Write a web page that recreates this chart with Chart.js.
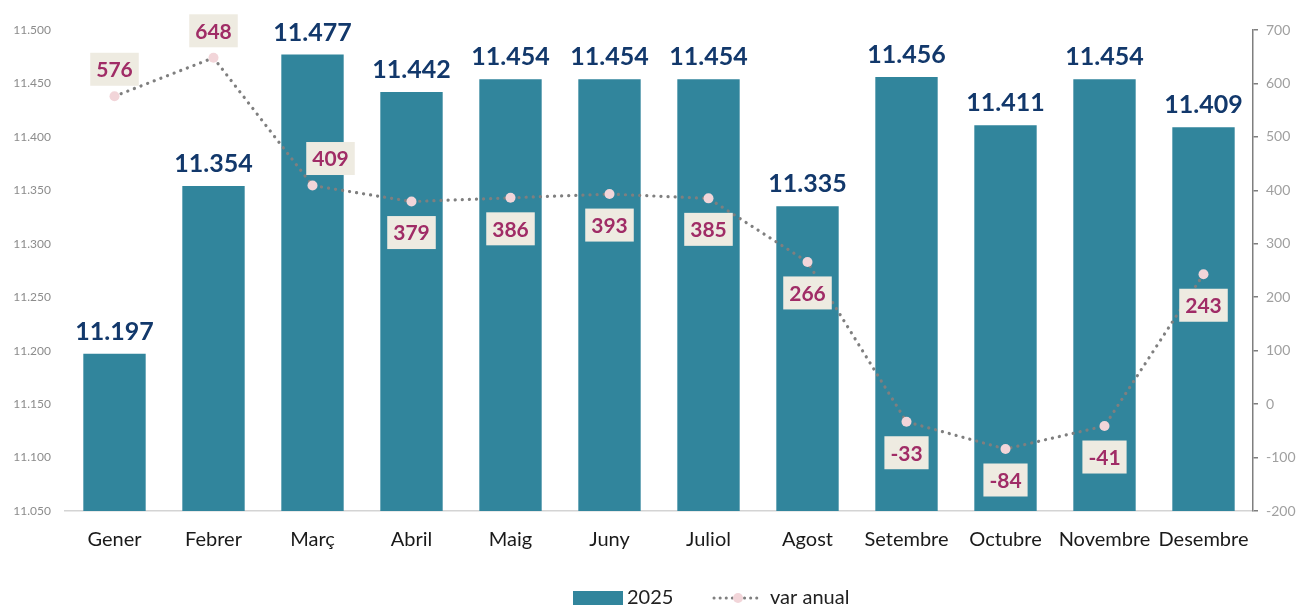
<!DOCTYPE html>
<html>
<head>
<meta charset="utf-8">
<script src="https://cdn.jsdelivr.net/npm/chart.js@4.4.1/dist/chart.umd.min.js"></script>
<style>
  html, body { margin: 0; padding: 0; background: #ffffff; }
  #wrap { width: 1298px; height: 607px; position: relative; }
</style>
</head>
<body>
<div id="wrap"><canvas id="c" width="1298" height="607"></canvas></div>
<script>
const categories = ['Gener','Febrer','Març','Abril','Maig','Juny','Juliol','Agost','Setembre','Octubre','Novembre','Desembre'];
const values2025 = [11197, 11354, 11477, 11442, 11454, 11454, 11454, 11335, 11456, 11411, 11454, 11409];
const varAnual = [576, 648, 409, 379, 386, 393, 385, 266, -33, -84, -41, 243];
const seriesNames = ['2025', 'var anual'];

const FONT = 'Lato, "Open Sans", "DejaVu Sans", sans-serif';
const BAR_COLOR = '#31859c';
const LINE_COLOR = '#7f7f7f';
const POINT_COLOR = '#f2d5d9';
const BAR_LABEL_COLOR = '#12386b';
const LINE_LABEL_COLOR = '#a02c66';
const LINE_LABEL_BG = '#eeebe1';

function fmtThousands(v) {
  const s = Math.round(v).toString();
  const neg = s.startsWith('-');
  const d = neg ? s.slice(1) : s;
  const out = d.replace(/\B(?=(\d{3})+(?!\d))/g, '.');
  return (neg ? '-' : '') + out;
}

const labelPlugin = {
  id: 'labels',
  afterDatasetsDraw(chart) {
    const ctx = chart.ctx;
    ctx.save();
    const barMeta = chart.getDatasetMeta(1);
    ctx.font = 'bold 25px ' + FONT;
    ctx.fillStyle = BAR_LABEL_COLOR;
    ctx.textAlign = 'center';
    ctx.textBaseline = 'alphabetic';
    barMeta.data.forEach((el, i) => {
      ctx.fillText(fmtThousands(values2025[i]), el.x, el.y - 14);
    });
    const lineMeta = chart.getDatasetMeta(0);
    ctx.font = 'bold 21px ' + FONT;
    ctx.textBaseline = 'middle';
    lineMeta.data.forEach((el, i) => {
      const txt = String(varAnual[i]);
      const above = i < 3;
      const dx = i === 2 ? 18 : 0;
      const cx = el.x + dx;
      const cy = above ? el.y - 27 : el.y + 31;
      const w = ctx.measureText(txt).width + 12;
      const h = 33;
      ctx.fillStyle = LINE_LABEL_BG;
      ctx.fillRect(cx - w / 2, cy - h / 2, w, h);
      ctx.fillStyle = LINE_LABEL_COLOR;
      ctx.fillText(txt, cx, cy + 1);
    });
    ctx.restore();
  }
};

const legendPlugin = {
  id: 'customLegend',
  afterDraw(chart) {
    const ctx = chart.ctx;
    ctx.save();
    const y = 598;
    ctx.fillStyle = BAR_COLOR;
    ctx.fillRect(573, y - 7, 50, 14);
    ctx.font = '20px ' + FONT;
    ctx.fillStyle = '#222222';
    ctx.textBaseline = 'middle';
    ctx.textAlign = 'left';
    ctx.fillText(seriesNames[0], 627, y);
    ctx.strokeStyle = LINE_COLOR;
    ctx.lineWidth = 3;
    ctx.lineCap = 'round';
    ctx.setLineDash([0.1, 6]);
    ctx.beginPath();
    ctx.moveTo(714, y);
    ctx.lineTo(762, y);
    ctx.stroke();
    ctx.setLineDash([]);
    ctx.fillStyle = POINT_COLOR;
    ctx.beginPath();
    ctx.arc(738, y, 5, 0, Math.PI * 2);
    ctx.fill();
    ctx.fillStyle = '#222222';
    ctx.fillText(seriesNames[1], 770, y);
    ctx.restore();
  }
};

new Chart(document.getElementById('c'), {
  data: {
    labels: categories,
    datasets: [
      {
        type: 'line',
        label: seriesNames[1],
        data: varAnual,
        yAxisID: 'y1',
        borderColor: LINE_COLOR,
        borderWidth: 3.2,
        borderDash: [0.1, 7],
        borderCapStyle: 'round',
        pointRadius: 5,
        pointBackgroundColor: POINT_COLOR,
        pointBorderWidth: 0,
        tension: 0,
        order: 0
      },
      {
        type: 'bar',
        label: seriesNames[0],
        data: values2025,
        yAxisID: 'y',
        backgroundColor: BAR_COLOR,
        categoryPercentage: 1,
        barPercentage: 0.63,
        order: 1
      }
    ]
  },
  options: {
    responsive: false,
    animation: false,
    layout: { padding: { top: 30, bottom: 51, left: 0, right: 0 } },
    plugins: { legend: { display: false }, tooltip: { enabled: false } },
    scales: {
      x: {
        grid: { display: false, drawTicks: false },
        border: { display: true, color: '#d4d4d4', width: 1.5 },
        ticks: { color: '#1a1a1a', font: { family: FONT, size: 20 }, padding: 17, maxRotation: 0, autoSkip: false },
        afterFit(s) { s.height = 45; }
      },
      y: {
        position: 'left',
        min: 11050, max: 11500,
        grid: { display: false, drawTicks: false },
        border: { display: false },
        ticks: { stepSize: 50, color: '#8c8c8c', font: { family: FONT, size: 12 }, padding: 14, callback: v => fmtThousands(v) },
        afterFit(s) { s.width = 65; }
      },
      y1: {
        position: 'right',
        min: -200, max: 700,
        grid: { display: true, drawOnChartArea: false, drawTicks: true, tickLength: 5, color: '#7f7f7f', lineWidth: 1.5 },
        border: { display: true, color: '#7f7f7f', width: 1.5 },
        ticks: { stepSize: 100, color: '#a0a0a0', font: { family: FONT, size: 14 }, padding: 8 },
        afterFit(s) { s.width = 45; }
      }
    }
  },
  plugins: [labelPlugin, legendPlugin]
});
</script>
</body>
</html>
